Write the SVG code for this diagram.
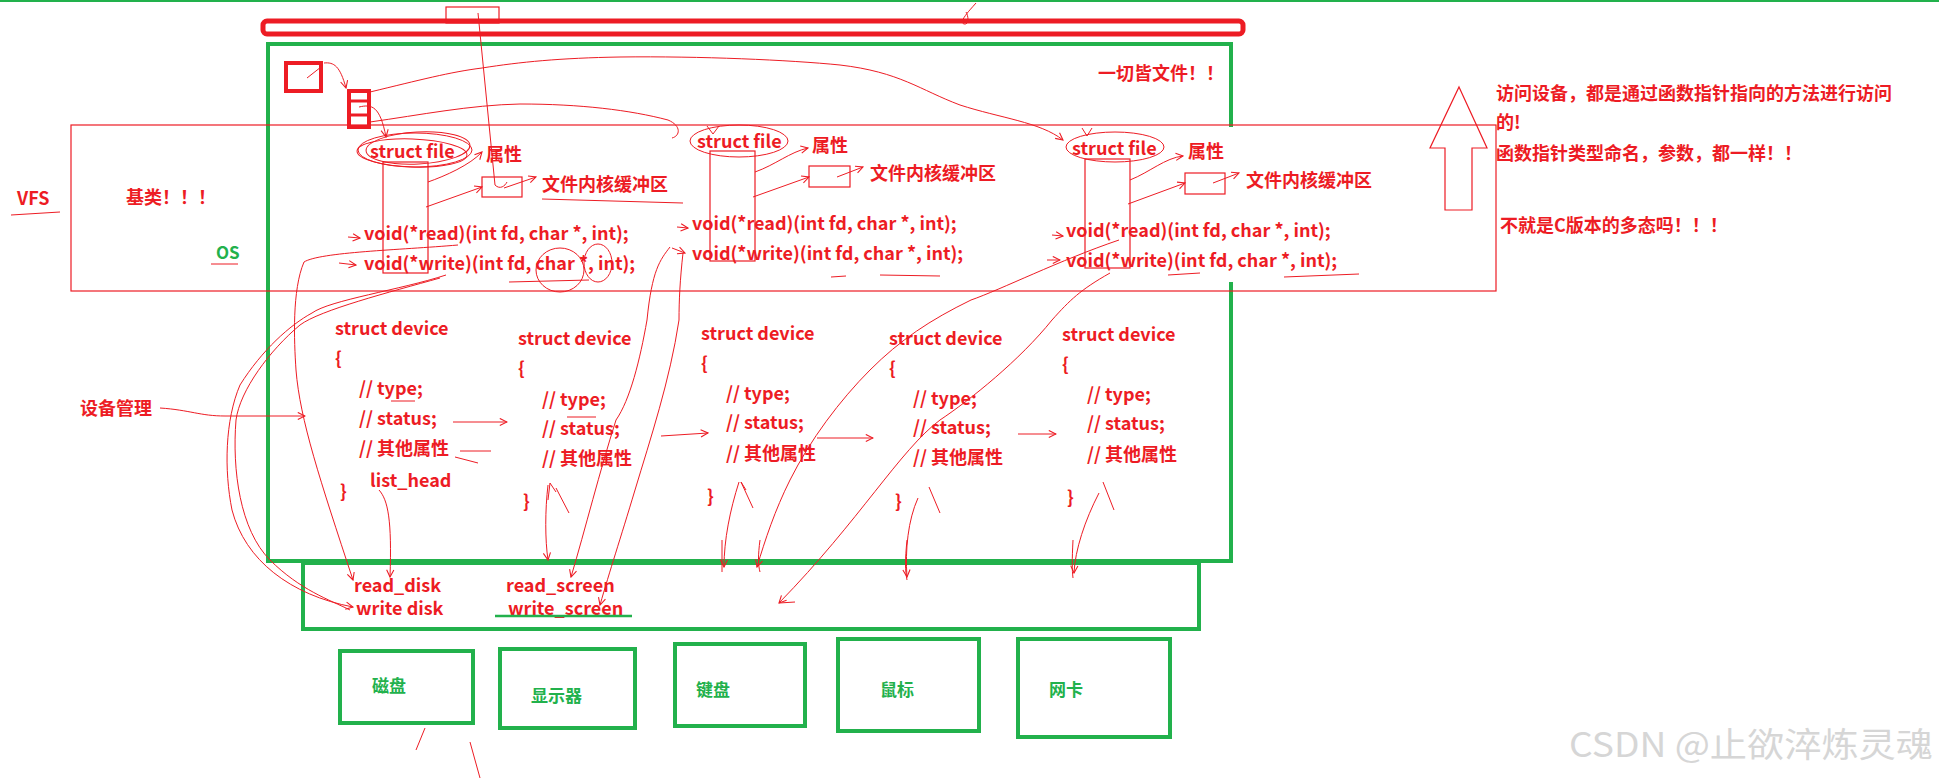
<svg xmlns="http://www.w3.org/2000/svg" width="1939" height="779" viewBox="0 0 1939 779">
<defs>
<marker id="ah" viewBox="0 0 10 10" refX="9" refY="5" markerWidth="9" markerHeight="9" orient="auto" markerUnits="userSpaceOnUse">
<path d="M1,1 L9,5 L1,9" fill="none" stroke="#ed1c24" stroke-width="1.2"/>
</marker>
</defs>
<style>
.t{font-family:"Noto Sans CJK SC","Liberation Sans",sans-serif;font-weight:700;fill:#ed1c24;font-size:18px}
.g{font-family:"Noto Sans CJK SC","Liberation Sans",sans-serif;font-weight:700;fill:#22b14c;font-size:17px}
.gb{fill:none;stroke:#22b14c;stroke-width:4}
.rb{fill:none;stroke:#ed1c24;stroke-width:1.2}
.c{fill:none;stroke:#ed1c24;stroke-width:1}
.ca{fill:none;stroke:#ed1c24;stroke-width:1;marker-end:url(#ah)}
.wm{font-family:"Noto Sans CJK SC","Liberation Sans",sans-serif;font-size:34px;fill:#d6d6d6}
</style>
<rect width="1939" height="779" fill="#ffffff"/>
<line x1="0" y1="1" x2="1939" y2="1" stroke="#22b14c" stroke-width="2"/>

<g id="topbar">
<rect x="263" y="21" width="980" height="13" rx="4" fill="none" stroke="#ed1c24" stroke-width="5"/>
<rect x="446" y="7" width="53" height="16" class="rb"/>
</g>

<g id="os">
<path d="M1231,127 V44 H268 V561 H1231 V282" class="gb"/>
<text x="216" y="259" class="g" font-size="19">OS</text>
</g>

<g id="vfs">
<rect x="71" y="125" width="1425" height="166" class="rb"/>
<text x="17" y="205" class="t">VFS</text>
<text x="126" y="204" class="t" font-size="17">基类！！！</text>
</g>

<g id="pointers">
<rect x="286" y="63" width="35" height="28" fill="none" stroke="#ed1c24" stroke-width="4"/>
<rect x="349" y="91" width="20" height="36" fill="none" stroke="#ed1c24" stroke-width="4"/>
<line x1="349" y1="101" x2="369" y2="101" stroke="#ed1c24" stroke-width="3"/>
<line x1="349" y1="115" x2="369" y2="115" stroke="#ed1c24" stroke-width="3"/>
</g>

<g id="file1">
<ellipse cx="415" cy="150" rx="57" ry="17" class="c"/>
<ellipse cx="418" cy="148" rx="52" ry="16" class="c" transform="rotate(-3 418 148)"/>
<ellipse cx="412" cy="153" rx="55" ry="14" class="c" transform="rotate(2 412 153)"/>
<text x="370" y="158" class="t">struct file</text>
<rect x="383" y="162" width="45" height="111" class="rb"/>
<text x="486" y="161" class="t">属性</text>
<rect x="482" y="177" width="40" height="20" class="rb"/>
<text x="542" y="191" class="t" font-size="17">文件内核缓冲区</text>
<text x="364" y="240" class="t">void(*read)(int fd, char *, int);</text>
<text x="364" y="270" class="t">void(*write)(int fd, char *, int);</text>
</g>

<g id="file2">
<ellipse cx="739" cy="141" rx="49" ry="16" class="c"/>
<text x="697" y="148" class="t">struct file</text>
<rect x="710" y="151" width="45" height="110" class="rb"/>
<text x="812" y="152" class="t">属性</text>
<rect x="809" y="166" width="41" height="21" class="rb"/>
<text x="870" y="180" class="t" font-size="17">文件内核缓冲区</text>
<text x="692" y="230" class="t">void(*read)(int fd, char *, int);</text>
<text x="692" y="260" class="t">void(*write)(int fd, char *, int);</text>
</g>

<g id="file3">
<ellipse cx="1115" cy="147" rx="49" ry="15" class="c"/>
<text x="1072" y="155" class="t">struct file</text>
<rect x="1085" y="159" width="45" height="109" class="rb"/>
<text x="1188" y="158" class="t">属性</text>
<rect x="1185" y="173" width="40" height="21" class="rb"/>
<text x="1246" y="187" class="t" font-size="17">文件内核缓冲区</text>
<text x="1066" y="237" class="t">void(*read)(int fd, char *, int);</text>
<text x="1066" y="267" class="t">void(*write)(int fd, char *, int);</text>
</g>

<g id="slogan">
<text x="1098" y="80" class="t">一切皆文件！！</text>
</g>

<g id="notes">
<path d="M1459,87 L1487,148 L1472,148 L1472,210 L1445,210 L1445,148 L1430,148 Z" class="rb"/>
<text x="1496" y="100" class="t" font-size="17.5">访问设备，都是通过函数指针指向的方法进行访问</text>
<text x="1496" y="129" class="t" font-size="17.5">的!</text>
<text x="1496" y="160" class="t" font-size="17.5">函数指针类型命名，参数，都一样！！</text>
<text x="1500" y="232" class="t" font-size="17.5">不就是C版本的多态吗！！！</text>
</g>

<g id="devmgr">
<text x="80" y="415" class="t" font-size="17">设备管理</text>
</g>

<g id="device1">
<text x="335" y="335" class="t">struct device</text>
<text x="335" y="365" class="t">{</text>
<text x="359" y="395" class="t">// type;</text>
<text x="359" y="425" class="t">// status;</text>
<text x="359" y="455" class="t">// 其他属性</text>
<text x="370" y="487" class="t">list_head</text>
<text x="340" y="498" class="t">}</text>
</g>
<g id="device2">
<text x="518" y="345" class="t">struct device</text>
<text x="518" y="375" class="t">{</text>
<text x="542" y="406" class="t">// type;</text>
<text x="542" y="435" class="t">// status;</text>
<text x="542" y="465" class="t">// 其他属性</text>
<text x="523" y="508" class="t">}</text>
</g>
<g id="device3">
<text x="701" y="340" class="t">struct device</text>
<text x="701" y="370" class="t">{</text>
<text x="726" y="400" class="t">// type;</text>
<text x="726" y="429" class="t">// status;</text>
<text x="726" y="460" class="t">// 其他属性</text>
<text x="707" y="503" class="t">}</text>
</g>
<g id="device4">
<text x="889" y="345" class="t">struct device</text>
<text x="889" y="375" class="t">{</text>
<text x="913" y="405" class="t">// type;</text>
<text x="913" y="434" class="t">// status;</text>
<text x="913" y="464" class="t">// 其他属性</text>
<text x="895" y="508" class="t">}</text>
</g>
<g id="device5">
<text x="1062" y="341" class="t">struct device</text>
<text x="1062" y="371" class="t">{</text>
<text x="1087" y="401" class="t">// type;</text>
<text x="1087" y="430" class="t">// status;</text>
<text x="1087" y="461" class="t">// 其他属性</text>
<text x="1067" y="504" class="t">}</text>
</g>

<g id="drivers">
<rect x="303" y="563" width="896" height="66" class="gb"/>
<text x="354" y="592" class="t">read_disk</text>
<text x="356" y="615" class="t">write disk</text>
<text x="506" y="592" class="t">read_screen</text>
<text x="508" y="615" class="t">write_screen</text>
<line x1="495" y1="616" x2="632" y2="616" stroke="#22b14c" stroke-width="2.5"/>
</g>

<g id="disk"><rect x="340" y="651" width="133" height="72" class="gb"/><text x="372" y="692" class="g">磁盘</text></g>
<g id="screen"><rect x="500" y="649" width="135" height="79" class="gb"/><text x="531" y="702" class="g">显示器</text></g>
<g id="keyboard"><rect x="675" y="644" width="130" height="82" class="gb"/><text x="696" y="696" class="g">键盘</text></g>
<g id="mouse"><rect x="838" y="639" width="141" height="92" class="gb" stroke-width="5"/><text x="880" y="696" class="g">鼠标</text></g>
<g id="nic"><rect x="1018" y="639" width="152" height="98" class="gb"/><text x="1049" y="696" class="g">网卡</text></g>

<g id="connectors">
<path d="M478,13 L495,185" class="c"/>
<path d="M495,185 C500,190 505,186 507,182" class="c"/>
<path d="M976,3 C970,10 958,22 964,24 C970,25 968,15 966,12" class="c"/>
<path d="M307,78 L321,67" class="c"/>
<path d="M324,63 C334,62 340,66 346,88" class="ca"/>
<path d="M370,92 C420,80 450,72 482,68 C520,62 560,58 620,57 C700,56 790,60 840,65 C900,72 920,90 960,105 C1000,118 1040,122 1063,140" class="ca"/>
<path d="M359,107 C372,104 380,106 386,137" class="ca"/>
<path d="M370,122 C420,115 470,105 520,104 C580,104 630,110 668,120 C682,126 680,136 672,138" class="c"/>
<path d="M707,126 L713,134 L719,126" class="c"/>
<path d="M1082,128 L1087,136 L1092,128" class="c"/>
<path d="M428,182 C445,176 470,165 482,152" class="ca"/>
<path d="M426,207 L482,187" class="ca"/>
<path d="M504,188 L536,177" class="ca"/>
<path d="M755,172 C775,165 790,152 808,148" class="ca"/>
<path d="M753,197 L809,177" class="ca"/>
<path d="M837,177 L863,167" class="ca"/>
<path d="M1130,180 C1150,172 1165,158 1183,156" class="ca"/>
<path d="M1128,204 L1185,183" class="ca"/>
<path d="M1213,183 L1239,173" class="ca"/>
<path d="M348,237 L360,238" class="ca"/>
<path d="M339,263 L356,265" class="ca"/>
<path d="M677,227 L688,228" class="ca"/>
<path d="M672,248 L685,253" class="ca"/>
<path d="M1052,235 L1063,236" class="ca"/>
<path d="M1047,260 L1060,260" class="ca"/>
<path d="M542,199 L683,203" class="c"/>
<path d="M509,282 L589,280" class="c"/>
<ellipse cx="560" cy="270" rx="24" ry="22" class="c"/>
<ellipse cx="598" cy="263" rx="14" ry="19" class="c"/>
<path d="M831,277 L846,276 M880,275 L940,276" class="c"/>
<path d="M1284,277 L1359,274" class="c"/>
<path d="M1168,275 L1200,273" class="c"/>
<path d="M458,245 C400,250 320,252 304,262 C292,290 294,340 296,370 C300,420 320,480 353,580" class="ca"/>
<path d="M446,275 C400,290 330,300 312,313 C290,325 262,350 240,385 C225,420 224,470 232,510 C245,560 290,595 353,607" class="ca"/>
<path d="M440,278 C390,292 320,310 300,325 C270,350 240,390 236,420 C232,470 240,530 270,560 C300,590 330,600 350,610" class="c"/>
<path d="M379,490 C388,500 392,520 390,577" class="ca"/>
<path d="M160,408 C190,410 200,416 225,416 L305,416" class="ca"/>
<path d="M453,422 L507,422" class="ca"/>
<path d="M460,451 L491,451 M455,457 L478,463" class="c"/>
<path d="M661,436 L708,433" class="ca"/>
<path d="M817,438 L873,438" class="ca"/>
<path d="M1018,434 L1056,434" class="ca"/>
<path d="M391,401 L415,401 M567,417 L596,417" class="c"/>
<path d="M548,485 C545,510 545,540 548,560" class="ca"/>
<path d="M548,500 L550,483 L556,492" class="c"/>
<path d="M556,488 L569,513" class="c"/>
<path d="M670,247 C660,260 652,270 647,320 C640,360 630,400 616,420 C600,470 585,530 571,577" class="ca"/>
<path d="M683,253 C680,280 679,300 679,320 C670,380 650,440 635,490 C620,540 610,570 600,605" class="ca"/>
<path d="M1119,240 C1060,260 1000,290 971,300 C930,320 900,340 870,370 C840,400 810,440 790,480 C775,510 765,540 757,567" class="ca"/>
<path d="M1110,273 C1080,290 1070,300 1052,320 C1020,360 970,400 940,420 C900,450 860,520 779,603" class="ca"/>
<path d="M779,603 L795,602" class="c"/>
<path d="M739,482 C730,510 724,540 724,567" class="ca"/>
<path d="M741,482 L753,508 M741,482 L746,490" class="c"/>
<path d="M918,498 C908,520 905,550 907,577" class="ca"/>
<path d="M929,487 L940,513" class="c"/>
<path d="M1099,493 C1085,520 1075,550 1074,573" class="ca"/>
<path d="M1103,482 L1114,510" class="c"/>
<path d="M722,540 L722,572 M760,540 C758,555 758,565 760,572" class="c"/>
<path d="M907,540 C905,560 905,570 907,580 M1073,540 C1072,560 1072,570 1073,578" class="c"/>
<path d="M11,215 L60,212" class="c"/>
<path d="M211,264 L238,264" class="c"/>
<path d="M425,728 L416,750 M470,742 L480,778" class="c"/>
</g>

<text x="1569" y="757" class="wm" textLength="364" lengthAdjust="spacingAndGlyphs">CSDN @止欲淬炼灵魂</text>
</svg>
